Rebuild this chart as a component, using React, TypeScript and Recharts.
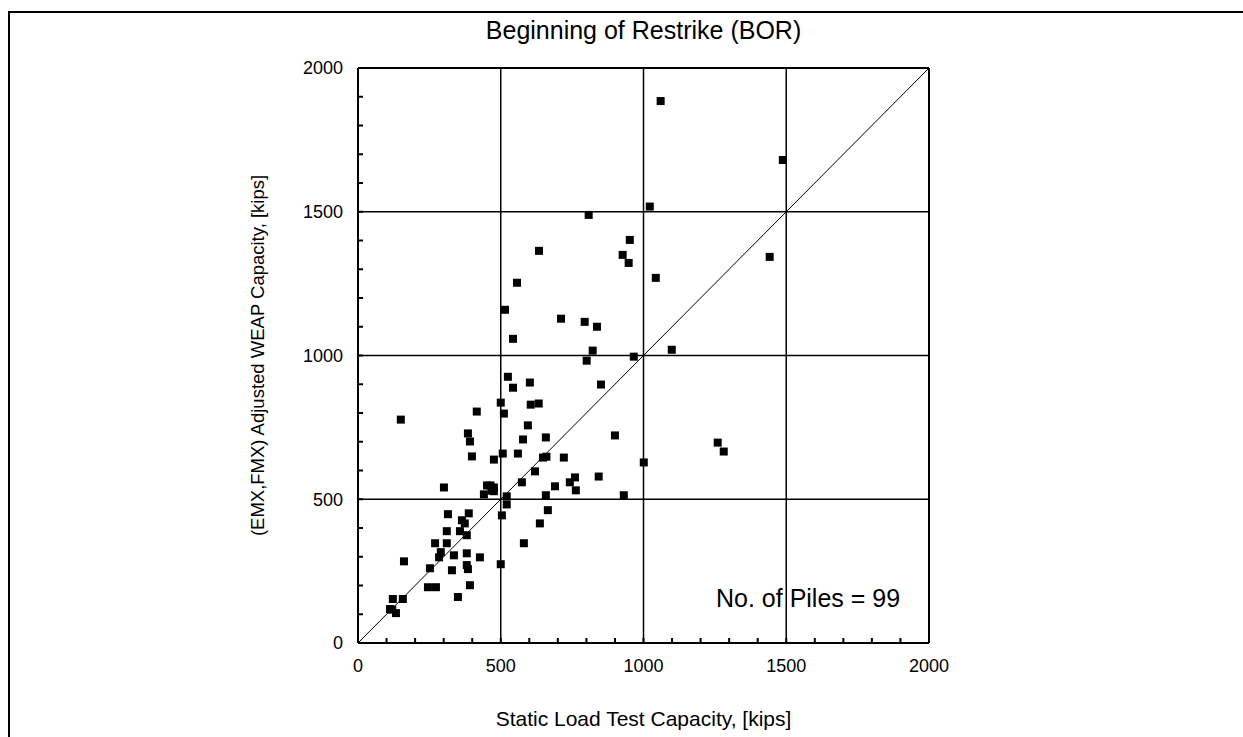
import React from 'react';
import {
    ScatterChart, Scatter, XAxis, YAxis, ZAxis, CartesianGrid, ReferenceLine,
} from 'recharts';

// static load test capacity (kips)
const staticLoad = [
    1060, 1488, 1022, 808, 1442, 1043, 1099, 952, 927, 948,
    634, 557, 515, 711, 794, 837, 543, 822, 801, 966,
    525, 602, 543, 851, 500, 605, 633, 511, 595, 578,
    658, 900, 507, 560, 648, 660, 721, 476, 1001, 620,
    760, 742, 763, 843, 574, 690, 476, 476, 521, 658,
    931, 521, 665, 504, 637, 581, 150, 416, 385, 392,
    399, 301, 452, 441, 315, 388, 364, 374, 311, 357,
    381, 270, 311, 290, 284, 336, 381, 427, 161, 252,
    329, 381, 385, 500, 245, 273, 392, 350, 122, 157,
    112, 133, 1260, 1281, 464, 120, 468,
];

// adjusted WEAP capacity (kips)
const weapCapacity = [
    1885, 1680, 1518, 1489, 1343, 1270, 1020, 1402, 1350, 1322,
    1364, 1253, 1159, 1128, 1117, 1100, 1058, 1017, 982, 996,
    926, 906, 888, 899, 836, 829, 833, 798, 757, 708,
    715, 722, 659, 659, 645, 648, 645, 638, 628, 597,
    576, 559, 531, 579, 559, 545, 541, 528, 510, 514,
    514, 482, 462, 444, 416, 347, 777, 805, 729, 701,
    649, 541, 548, 517, 448, 451, 427, 416, 389, 389,
    375, 347, 347, 316, 298, 305, 312, 298, 284, 260,
    253, 271, 257, 274, 194, 194, 201, 160, 153, 153,
    118, 104, 697, 666, 548, 116, 530,
];

const gridValues = [500, 1000, 1500];
const minorTicks = Array.from({ length: 21 }, (_, i) => i * 100);

const points = staticLoad.map((x, i) => ({ x, y: weapCapacity[i] }));

const FONT = '"Liberation Sans", Arial, Helvetica, sans-serif';

const majorLabel = (v: number) => (v % 500 === 0 ? String(v) : '');

export default function App() {
    return (
        <div style={{ position: 'absolute', left: 0, top: 0, width: 1243, height: 737, background: '#fff', fontFamily: FONT }}>
            <div style={{
                position: 'absolute', left: 8, top: 11, width: 1240, height: 740,
                borderTop: '2px solid #000', borderLeft: '2px solid #000',
            }}
            />
            <div style={{
                position: 'absolute', left: 258, width: 771, top: 16, textAlign: 'center',
                fontSize: 25, lineHeight: '28px', color: '#000',
            }}
            >
                Beginning of Restrike (BOR)
            </div>
            <ScatterChart
                width={1243}
                height={737}
                margin={{ top: 67, right: 313, bottom: 0, left: 0 }}
                style={{ position: 'absolute', left: 0, top: 0, fontFamily: FONT }}
            >
                <CartesianGrid
                    stroke="#000"
                    strokeWidth={1.5}
                    horizontalValues={gridValues}
                    verticalValues={gridValues}
                />
                <XAxis
                    type="number"
                    dataKey="x"
                    domain={[0, 2000]}
                    ticks={minorTicks}
                    interval={0}
                    tickFormatter={majorLabel}
                    tickSize={-5}
                    tickMargin={21}
                    height={94}
                    stroke="#000"
                    strokeWidth={2}
                    tick={{ fill: '#000', fontSize: 18 }}
                    label={{
                        content: (p: any) => {
                            const vb = p.viewBox;
                            return (
                                <text x={vb.x + vb.width / 2} y={vb.y + 83} textAnchor="middle" fontSize={21} fill="#000">
                                    Static Load Test Capacity, [kips]
                                </text>
                            );
                        },
                    }}
                />
                <XAxis
                    xAxisId="top"
                    orientation="top"
                    type="number"
                    dataKey="x"
                    domain={[0, 2000]}
                    ticks={minorTicks}
                    interval={0}
                    tick={false}
                    tickSize={-5}
                    height={1}
                    stroke="#000"
                    strokeWidth={2}
                />
                <YAxis
                    type="number"
                    dataKey="y"
                    domain={[0, 2000]}
                    ticks={minorTicks}
                    interval={0}
                    tickFormatter={majorLabel}
                    tickSize={-5}
                    tickMargin={20}
                    width={358}
                    stroke="#000"
                    strokeWidth={2}
                    tick={{ fill: '#000', fontSize: 18 }}
                    label={{
                        content: (p: any) => {
                            const vb = p.viewBox;
                            const cx = vb.x + vb.width - 94;
                            const cy = vb.y + vb.height / 2;
                            return (
                                <text x={cx} y={cy} transform={`rotate(-90 ${cx} ${cy})`} textAnchor="middle" fontSize={18.5} fill="#000">
                                    (EMX,FMX) Adjusted WEAP Capacity, [kips]
                                </text>
                            );
                        },
                    }}
                />
                <YAxis
                    yAxisId="right"
                    orientation="right"
                    type="number"
                    dataKey="y"
                    domain={[0, 2000]}
                    ticks={minorTicks}
                    interval={0}
                    tick={false}
                    tickSize={-5}
                    width={1}
                    stroke="#000"
                    strokeWidth={2}
                />
                <ZAxis range={[60, 60]} />
                <ReferenceLine
                    segment={[{ x: 0, y: 0 }, { x: 2000, y: 2000 }]}
                    stroke="#000"
                    strokeWidth={1}
                />
                <Scatter data={points} fill="#000" shape="square" isAnimationActive={false} />
            </ScatterChart>
            <div style={{
                position: 'absolute', left: 716, top: 584, fontSize: 25, lineHeight: '29px', color: '#000',
                whiteSpace: 'nowrap',
            }}
            >
                No. of Piles = 99
            </div>
        </div>
    );
}
